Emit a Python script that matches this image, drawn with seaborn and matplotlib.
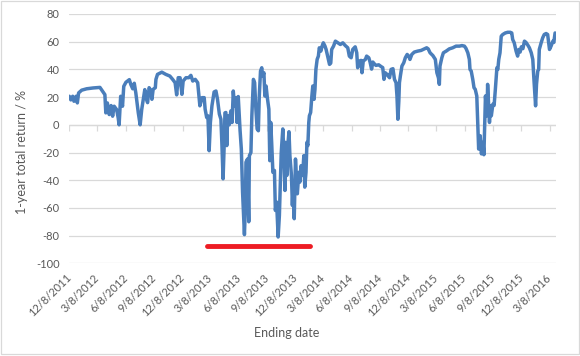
import pandas as pd
import matplotlib
matplotlib.use("Agg")
import matplotlib.pyplot as plt
from matplotlib.markers import TICKDOWN
import seaborn as sns
from matplotlib.patches import Rectangle

# ---------------- data ----------------
dates = [
    "2011-12-08", "2011-12-13", "2011-12-19", "2011-12-23", "2011-12-30", "2012-01-03", "2012-01-07",
    "2012-01-17", "2012-02-02", "2012-02-23", "2012-03-05", "2012-03-16", "2012-03-21", "2012-04-01",
    "2012-04-04", "2012-04-09", "2012-04-15", "2012-04-21", "2012-04-26", "2012-05-01", "2012-05-09",
    "2012-05-14", "2012-05-17", "2012-05-22", "2012-05-28", "2012-06-01", "2012-06-08", "2012-06-19",
    "2012-06-24", "2012-06-30", "2012-07-05", "2012-07-10", "2012-07-18", "2012-07-24", "2012-07-29",
    "2012-08-03", "2012-08-08", "2012-08-14", "2012-08-17", "2012-08-22", "2012-08-28", "2012-08-31",
    "2012-09-04", "2012-09-11", "2012-09-13", "2012-09-18", "2012-10-02", "2012-10-15", "2012-10-28",
    "2012-11-06", "2012-11-14", "2012-11-19", "2012-11-24", "2012-11-30", "2012-12-06", "2012-12-10",
    "2012-12-19", "2012-12-28", "2013-01-04", "2013-01-10", "2013-01-18", "2013-01-26", "2013-01-29",
    "2013-02-02", "2013-02-09", "2013-02-16", "2013-02-19", "2013-02-24", "2013-02-28", "2013-03-04",
    "2013-03-08", "2013-03-13", "2013-03-20", "2013-03-26", "2013-03-31", "2013-04-06", "2013-04-11",
    "2013-04-14", "2013-04-18", "2013-04-22", "2013-04-24", "2013-04-27", "2013-04-30", "2013-05-03",
    "2013-05-08", "2013-05-13", "2013-05-17", "2013-05-21", "2013-05-25", "2013-05-30", "2013-06-02",
    "2013-06-06", "2013-06-10", "2013-06-12", "2013-06-16", "2013-06-20", "2013-06-26", "2013-06-29",
    "2013-07-01", "2013-07-06", "2013-07-10", "2013-07-12", "2013-07-17", "2013-07-20", "2013-07-25",
    "2013-07-29", "2013-08-02", "2013-08-06", "2013-08-10", "2013-08-13", "2013-08-17", "2013-08-21",
    "2013-08-24", "2013-08-28", "2013-08-31", "2013-09-04", "2013-09-08", "2013-09-13", "2013-09-16",
    "2013-09-19", "2013-09-22", "2013-09-26", "2013-10-01", "2013-10-04", "2013-10-08", "2013-10-13",
    "2013-10-17", "2013-10-20", "2013-10-23", "2013-10-28", "2013-10-31", "2013-11-04", "2013-11-06",
    "2013-11-10", "2013-11-14", "2013-11-17", "2013-11-20", "2013-11-25", "2013-11-28", "2013-12-01",
    "2013-12-04", "2013-12-08", "2013-12-11", "2013-12-14", "2013-12-19", "2013-12-22", "2013-12-26",
    "2013-12-31", "2014-01-04", "2014-01-07", "2014-01-11", "2014-01-14", "2014-01-17", "2014-01-20",
    "2014-01-22", "2014-01-26", "2014-01-30", "2014-02-02", "2014-02-06", "2014-02-09", "2014-02-12",
    "2014-02-16", "2014-02-20", "2014-02-23", "2014-02-28", "2014-03-04", "2014-03-08", "2014-03-13",
    "2014-03-17", "2014-03-22", "2014-03-28", "2014-04-01", "2014-04-04", "2014-04-10", "2014-04-16",
    "2014-04-24", "2014-05-02", "2014-05-10", "2014-05-18", "2014-05-26", "2014-05-31", "2014-06-06",
    "2014-06-11", "2014-06-19", "2014-06-24", "2014-06-27", "2014-07-02", "2014-07-08", "2014-07-11",
    "2014-07-15", "2014-07-22", "2014-07-26", "2014-08-02", "2014-08-06", "2014-08-11", "2014-08-15",
    "2014-08-20", "2014-08-25", "2014-09-03", "2014-09-11", "2014-09-16", "2014-09-20", "2014-09-24",
    "2014-09-30", "2014-10-08", "2014-10-13", "2014-10-19", "2014-10-24", "2014-10-29", "2014-11-01",
    "2014-11-04", "2014-11-07", "2014-11-09", "2014-11-12", "2014-11-17", "2014-11-23", "2014-11-28",
    "2014-12-04", "2014-12-09", "2014-12-13", "2014-12-19", "2014-12-27", "2015-01-07", "2015-01-18",
    "2015-01-28", "2015-02-05", "2015-02-10", "2015-02-16", "2015-02-25", "2015-03-05", "2015-03-10",
    "2015-03-15", "2015-03-18", "2015-03-20", "2015-03-26", "2015-03-31", "2015-04-09", "2015-04-19",
    "2015-04-30", "2015-05-11", "2015-05-22", "2015-05-30", "2015-06-07", "2015-06-12", "2015-06-18",
    "2015-06-23", "2015-06-25", "2015-06-29", "2015-07-04", "2015-07-08", "2015-07-12", "2015-07-17",
    "2015-07-20", "2015-07-23", "2015-07-28", "2015-08-01", "2015-08-06", "2015-08-09", "2015-08-12",
    "2015-08-14", "2015-08-19", "2015-08-21", "2015-08-24", "2015-08-27", "2015-08-30", "2015-09-02",
    "2015-09-07", "2015-09-11", "2015-09-15", "2015-09-20", "2015-09-23", "2015-09-26", "2015-09-30",
    "2015-10-04", "2015-10-09", "2015-10-17", "2015-10-25", "2015-11-02", "2015-11-07", "2015-11-10",
    "2015-11-15", "2015-11-21", "2015-11-26", "2015-11-30", "2015-12-04", "2015-12-08", "2015-12-13",
    "2015-12-18", "2015-12-23", "2015-12-29", "2016-01-03", "2016-01-09", "2016-01-14", "2016-01-17",
    "2016-01-21", "2016-01-23", "2016-01-26", "2016-01-30", "2016-02-02", "2016-02-04", "2016-02-10",
    "2016-02-15", "2016-02-20", "2016-02-26", "2016-03-02", "2016-03-08", "2016-03-13", "2016-03-19",
    "2016-03-22", "2016-03-26",
]

returns = [
    20.6, 18, 20.6, 17, 20.6, 15.8, 23,
    25, 26, 26.6, 26.8, 27, 25.4, 21.8,
    8.6, 15.8, 7.4, 13.9, 6.2, 13.4, 11,
    5, 0, 20.6, 13.4, 27.8, 30.7, 32.6,
    29, 26, 30, 23, 8.6, 0, 11,
    18, 25.4, 18, 16, 26.8, 24.4, 18.4,
    25.6, 26.8, 32.8, 36.4, 38, 36.4, 35.2,
    32.8, 30.4, 21.6, 34, 34, 22, 31.6,
    34, 34, 35.7, 31.6, 32.8, 30.4, 23.2,
    13.7, 19.6, 19.6, 11.3, 5.3, 6.5, -18.7,
    1.7, 13.7, 23.7, 24.4, 18.4, 7.7, 4,
    -12.7, -39, -12, 8.6, 8.9, -15, 6.5,
    0, 10, 1.7, 24.4, 13.7, 19.6, 1.7,
    20.4, 4, -4.3, -17.5, -48.6, -79.3, -60,
    -27, -24.7, -70, -22.3, -20, 6.5, 32.8,
    30.4, 11.3, -3, -4.3, 20.8, 38.8, 41.2,
    35.2, 37.6, 20.8, 28, 19.6, 11.3, -25.9,
    1.7, -12.7, -34.3, -33, -61.8, -55.8, -81,
    -65.4, -41.4, -20, -3, -17.5, -47.4, -12.7,
    -36.6, -12.7, -5, -22.3, -36.6, -58.2, -41.4,
    -67.8, -24.7, -37.8, -49.8, -34.3, -41.4, -29.5,
    -36.6, -22.3, -45, -34.3, -12.7, -15, 1.7,
    6.5, 8.9, 20.8, 28, 18.4, 25.6, 40,
    47.2, 49.6, 55.6, 53.2, 56.8, 59.2, 57,
    54.4, 49.6, 43.6, 44.5, 54.4, 56.8, 60.4,
    59.2, 58, 59.2, 57.2, 55.6, 49.6, 48.4,
    54.4, 56.3, 52, 41.2, 46, 46.5, 37.6,
    46, 47.2, 49.6, 48.4, 45.3, 40.2, 45.3,
    44, 42.9, 43.3, 42, 41.3, 32.8, 37.6,
    36.4, 34, 40, 40.5, 32.8, 30.4, 20.8,
    4, 17, 30.4, 35.2, 42.4, 44.8, 48.4,
    50.8, 49.6, 47.2, 50.8, 52.5, 53.2, 53.7,
    54.8, 55.6, 54.8, 52, 50, 47.2, 37.6,
    34, 29.2, 42.4, 48.4, 52, 53.2, 54.8,
    55.6, 56.8, 56.8, 57.2, 56.8, 55.2, 52,
    47.2, 40, 38.8, 32.8, 26.8, 25.6, 20.8,
    1.7, -17.5, -7.9, -21, -12.7, -21.6, 4,
    20.8, 6.5, 29.2, 16, 1.7, 13.7, 6.5,
    14.9, 14, 25.6, 41.2, 40, 47.2, 52,
    64, 65.2, 66.3, 66.8, 66.8, 66.3, 61.6,
    59.2, 53.2, 49.6, 54.4, 52.5, 56.3, 55,
    60.4, 59.5, 57.5, 55.6, 52, 47.2, 35.2,
    20.8, 13.7, 29.2, 38.8, 40, 54.4, 59.2,
    62.8, 65.2, 65.9, 65.2, 54.4, 56.8, 60.4,
    59.5, 66.3,
]

tick_labels = [
    "12/8/2011", "3/8/2012", "6/8/2012", "9/8/2012", "12/8/2012", "3/8/2013",
    "6/8/2013", "9/8/2013", "12/8/2013", "3/8/2014", "6/8/2014", "9/8/2014",
    "12/8/2014", "3/8/2015", "6/8/2015", "9/8/2015", "12/8/2015", "3/8/2016",
]
y_ticks = [-100, -80, -60, -40, -20, 0, 20, 40, 60, 80]
x_range = ["2011-12-08", "2016-03-29"]
axis_cross = 0

highlight_dates = ["2013-02-24", "2014-01-24"]
highlight_level = [-87.5, -87.5]

x_title = "Ending date"
y_title = "1-year total return / %"

# ---------------- style ----------------
sns.set_style("white")
plt.rcParams["font.family"] = ["Lato", "DejaVu Sans"]
plt.rcParams["axes.unicode_minus"] = False

TEXT = "#595959"
GRID = "#D9D9D9"
LINE = "#4A7EBB"
RED = "#ED1C24"

fig = plt.figure(figsize=(5.8, 3.56), dpi=100)
ax = fig.add_axes([69.3 / 580, 1 - 263.3 / 356, (556 - 69.3) / 580, (263.3 - 14) / 356])

df = pd.DataFrame({"date": pd.to_datetime(dates), "ret": returns})
sns.lineplot(data=df, x="date", y="ret", ax=ax, color=LINE, linewidth=2.5,
             estimator=None, sort=False, zorder=3)

hl = pd.DataFrame({"date": pd.to_datetime(highlight_dates), "level": highlight_level})
sns.lineplot(data=hl, x="date", y="level", ax=ax, color=RED, linewidth=3.5,
             estimator=None, sort=False, solid_capstyle="round", zorder=4)

ax.set_ylim(y_ticks[0], y_ticks[-1])
ax.set_xlim(pd.to_datetime(x_range[0]), pd.to_datetime(x_range[1]))
ax.set_yticks(y_ticks)
ax.set_yticklabels([str(v) for v in y_ticks])
ax.yaxis.grid(True, color=GRID, linewidth=0.9)
ax.xaxis.grid(False)
ax.set_axisbelow(True)
for s in ax.spines.values():
    s.set_visible(False)

tick_pos = pd.to_datetime(tick_labels, format="%m/%d/%Y")
ax.set_xticks(tick_pos)
ax.set_xticklabels(tick_labels, rotation=45, ha="right", va="center",
                   rotation_mode="anchor")
ax.tick_params(axis="x", length=0, pad=9, labelsize=8, labelcolor=TEXT)
ax.tick_params(axis="y", length=0, pad=7, labelsize=8, labelcolor=TEXT)
ax.set_xlabel("")
ax.set_ylabel("")

# horizontal axis line crossing at zero with outward (downward) tick marks
ax.axhline(axis_cross, color=GRID, linewidth=0.9, zorder=1)
ax.plot(tick_pos, [axis_cross] * len(tick_pos), linestyle="none",
        marker=TICKDOWN, markersize=4, markeredgewidth=0.9, color=GRID, zorder=1)

fig.text(22 / 580, 1 - 152 / 356, y_title, rotation=90, ha="center", va="center",
         fontsize=9, color=TEXT)
fig.text(287 / 580, 1 - 333 / 356, x_title, ha="center", va="center",
         fontsize=9, color=TEXT)

fig.add_artist(Rectangle((0.5 / 580, 1.7 / 356), 578 / 580, 353.3 / 356,
                         transform=fig.transFigure, fill=False,
                         edgecolor=GRID, linewidth=0.9))

fig.savefig("out.png", dpi=100)
